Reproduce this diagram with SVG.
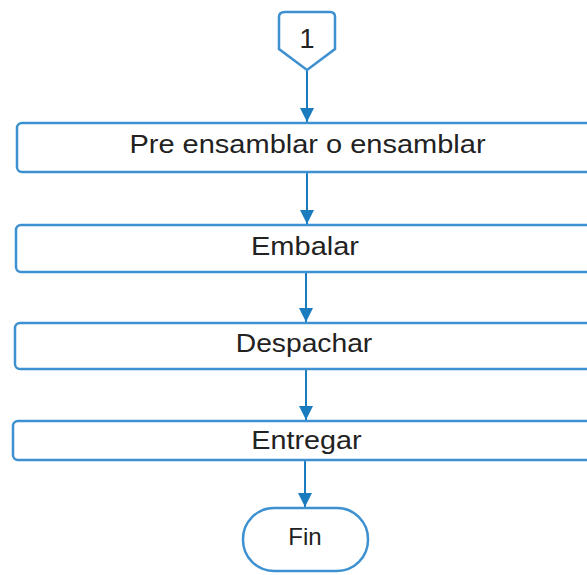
<svg xmlns="http://www.w3.org/2000/svg" width="587" height="575" viewBox="0 0 587 575">
<style>
.box{fill:#fff;stroke:#3d91d0;stroke-width:2.5}
.lbl{font-family:"Liberation Sans",Arial,sans-serif;font-size:25px;fill:#222;text-anchor:middle}
.conn{stroke:#1a7bbf;stroke-width:2;fill:none}
</style>
<defs>
<marker id="ah" viewBox="0 0 14 21" refX="14" refY="10.5" markerWidth="14" markerHeight="21" markerUnits="userSpaceOnUse" orient="auto">
<path d="M0,3.5 L14,10.5 L0,17.5 Z" fill="#1a7bbf"/>
</marker>
</defs>
<rect width="587" height="575" fill="#fff"/>
<g id="connectors">
<line class="conn" x1="307" y1="70" x2="307" y2="122" marker-end="url(#ah)"/>
<line class="conn" x1="307" y1="173" x2="307" y2="224" marker-end="url(#ah)"/>
<line class="conn" x1="306" y1="273" x2="306" y2="322" marker-end="url(#ah)"/>
<line class="conn" x1="306" y1="370" x2="306" y2="420" marker-end="url(#ah)"/>
<line class="conn" x1="305" y1="461" x2="305" y2="507" marker-end="url(#ah)"/>
</g>
<g id="n1">
<path class="box" d="M285,12 L330,12 Q335,12 335,17 L335,49 L307,70 L279,49 L279,17 Q279,12 285,12 Z"/>
<text class="lbl" x="307" y="48" style="font-size:27px">1</text>
</g>
<g id="n2">
<rect class="box" x="17" y="123" width="600" height="49" rx="5"/>
<text class="lbl" transform="translate(307.5,153) scale(1.16,1)">Pre ensamblar o ensamblar</text>
</g>
<g id="n3">
<rect class="box" x="16" y="225" width="600" height="47" rx="5"/>
<text class="lbl" transform="translate(305,255) scale(1.16,1)">Embalar</text>
</g>
<g id="n4">
<rect class="box" x="15" y="323" width="600" height="46" rx="5"/>
<text class="lbl" transform="translate(304,352) scale(1.13,1)">Despachar</text>
</g>
<g id="n5">
<rect class="box" x="13" y="421" width="600" height="39" rx="5"/>
<text class="lbl" transform="translate(306.5,449) scale(1.15,1)">Entregar</text>
</g>
<g id="n6">
<rect class="box" x="243" y="508" width="125" height="63" rx="31"/>
<text class="lbl" x="305" y="545" style="font-size:24px">Fin</text>
</g>
</svg>
